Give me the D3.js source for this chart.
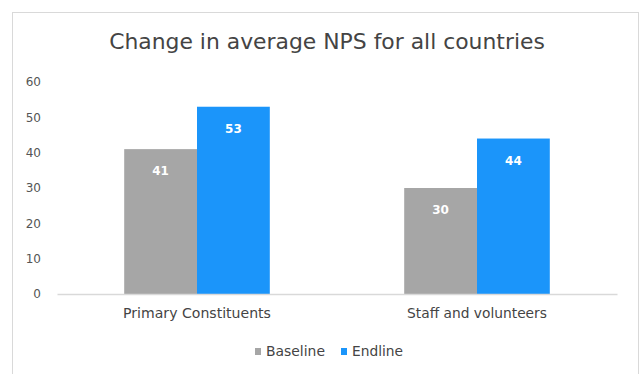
<!DOCTYPE html>
<html><head><meta charset="utf-8">
<script src="https://cdn.jsdelivr.net/npm/d3@7"></script>
<style>body{margin:0;background:#fff;} svg{display:block;font-family:"DejaVu Sans",sans-serif;}</style>
</head><body><svg id="c" width="643" height="374"></svg>
<script>
const title = "Change in average NPS for all countries";
const categories = ["Primary Constituents", "Staff and volunteers"];
const seriesNames = ["Baseline", "Endline"];
const baseline = [41, 30];
const endline = [53, 44];
const yTicks = [0, 10, 20, 30, 40, 50, 60];
const colors = ["#a6a6a6", "#1b95fa"];

(function () {
const FF = "DejaVu Sans, sans-serif";
const svg = d3.select("#c");
svg.append("rect").attr("x", 12.5).attr("y", 12.5).attr("width", 626).attr("height", 380)
  .attr("fill", "#fff").attr("stroke", "#d9d9d9").attr("stroke-width", 1);

const pl = 57, pr = 617, pt = 82, pb = 294;
const x0 = d3.scaleBand().domain(categories).range([pl, pr]).paddingInner(0.48).paddingOuter(0.24);
const x1 = d3.scaleBand().domain(seriesNames).range([0, x0.bandwidth()]);
const y = d3.scaleLinear().domain([0, 60]).range([pb, pt]);

function fit(sel, target) {
  const w = sel.node().getComputedTextLength();
  const fs = parseFloat(sel.attr("font-size"));
  sel.attr("font-size", fs * target / w);
}

const t = svg.append("text").attr("x", 327).attr("y", 49).attr("text-anchor", "middle")
  .attr("font-size", 20).attr("fill", "#444").text(title);
fit(t, 436);

const yAxis = svg.append("g").attr("transform", `translate(${pl},0)`)
  .call(d3.axisLeft(y).tickValues(yTicks).tickSize(0).tickPadding(16));
yAxis.select(".domain").remove();
yAxis.selectAll("text").attr("font-size", 12).attr("fill", "#555").attr("font-family", FF);

const data = categories.map((c, i) => ({cat: c, vals: [baseline[i], endline[i]]}));
const g = svg.selectAll(".grp").data(data).enter().append("g")
  .attr("transform", d => `translate(${x0(d.cat)},0)`);
g.selectAll("rect").data(d => d.vals.map((v, j) => ({s: seriesNames[j], v, j}))).enter().append("rect")
  .attr("x", d => x1(d.s)).attr("y", d => y(d.v)).attr("width", x1.bandwidth())
  .attr("height", d => y(0) - y(d.v)).attr("fill", d => colors[d.j]);
g.selectAll("text").data(d => d.vals.map((v, j) => ({s: seriesNames[j], v, j}))).enter().append("text")
  .attr("x", d => x1(d.s) + x1.bandwidth() / 2).attr("y", d => y(d.v) + 26)
  .attr("text-anchor", "middle").attr("font-size", 12).attr("font-weight", "bold")
  .attr("fill", "#fff").text(d => d.v);

const xAxis = svg.append("g").attr("transform", `translate(0,${pb})`)
  .call(d3.axisBottom(x0).tickSize(0).tickPadding(14).tickSizeOuter(0));
xAxis.select(".domain").attr("stroke", "#d9d9d9").attr("stroke-width", 1.5);
xAxis.selectAll("text").attr("font-size", 12).attr("fill", "#444").attr("font-family", FF);
const targets = [148, 140];
xAxis.selectAll("text").each(function (d, i) { fit(d3.select(this), targets[i]); });

const legend = svg.append("g").attr("transform", "translate(255,356)");
const lx = [0, 86];
const lw = [59, 51];
seriesNames.forEach((s, i) => {
  legend.append("rect").attr("x", lx[i]).attr("y", -8).attr("width", 6).attr("height", 7).attr("fill", colors[i]);
  const tx = legend.append("text").attr("x", lx[i] + 11).attr("y", 0).attr("font-size", 12).attr("fill", "#444").text(s);
  fit(tx, lw[i]);
});
})();
</script></body></html>
